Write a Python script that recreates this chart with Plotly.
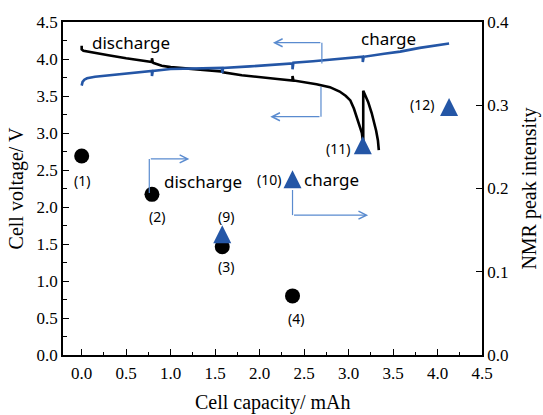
import plotly.graph_objects as go

# Galvanostatic discharge curve (cell voltage vs capacity)
dis_cap = [0.0, 0.0, 0.02, 0.1, 0.3, 0.5, 0.7, 0.79, 0.79, 0.80, 0.9, 1.0, 1.2, 1.4,
           1.58, 1.58, 1.59, 1.8, 2.0, 2.2, 2.37, 2.37, 2.38, 2.5, 2.64, 2.79, 2.9,
           2.97, 3.02, 3.06, 3.09, 3.13, 3.15, 3.16, 3.165, 3.165, 3.18, 3.22, 3.26,
           3.29, 3.31, 3.33, 3.34]
dis_volt = [4.18, 4.13, 4.11, 4.09, 4.05, 4.01, 3.98, 3.96, 4.01, 3.95, 3.91, 3.89, 3.87, 3.85,
            3.83, 3.87, 3.82, 3.78, 3.75, 3.73, 3.71, 3.77, 3.71, 3.69, 3.66, 3.62, 3.56,
            3.50, 3.44, 3.33, 3.22, 3.08, 3.0, 2.90, 2.88, 3.57, 3.53, 3.42, 3.27,
            3.14, 3.03, 2.90, 2.77]

# Charge curve
chg_cap = [0.0, 0.01, 0.03, 0.06, 0.15, 0.32, 0.5, 0.79, 0.79, 0.80, 1.0, 1.2, 1.4,
           1.58, 1.58, 1.59, 1.89, 2.1, 2.37, 2.37, 2.38, 2.6, 2.9, 3.16, 3.16, 3.17,
           3.4, 3.58, 3.8, 4.13]
chg_volt = [3.64, 3.69, 3.72, 3.74, 3.76, 3.78, 3.80, 3.84, 3.77, 3.84, 3.865, 3.87, 3.875,
            3.88, 3.81, 3.88, 3.90, 3.92, 3.94, 3.86, 3.95, 3.97, 4.00, 4.03, 3.96, 4.03,
            4.07, 4.10, 4.15, 4.21]

# NMR peak intensities measured during discharge (1)-(4) and charge (9)-(12)
dis_nmr_cap = [0.0, 0.79, 1.58, 2.37]
dis_nmr_int = [0.239, 0.193, 0.130, 0.071]
dis_nmr_lab = ["(1)", "(2)", "(3)", "(4)"]

chg_nmr_cap = [1.58, 2.37, 3.16, 4.13]
chg_nmr_int = [0.145, 0.211, 0.252, 0.298]
chg_nmr_lab = ["(9)", "(10)", "(11)", "(12)"]

x_ticks = [0.0, 0.5, 1.0, 1.5, 2.0, 2.5, 3.0, 3.5, 4.0, 4.5]
y_ticks = [0.0, 0.5, 1.0, 1.5, 2.0, 2.5, 3.0, 3.5, 4.0, 4.5]
y2_ticks = [0.0, 0.1, 0.2, 0.3, 0.4]

BLUE = "#2456a6"
ARROW = "#5a8bcf"
SERIF = "Liberation Serif"
SANS = "Noto Sans"
TRI = 18  # triangle marker size (px)

fig = go.Figure()
fig.add_trace(go.Scatter(x=dis_cap, y=dis_volt, mode="lines",
                         line=dict(color="black", width=2.6), yaxis="y"))
fig.add_trace(go.Scatter(x=chg_cap, y=chg_volt, mode="lines",
                         line=dict(color=BLUE, width=2.6), yaxis="y"))
fig.add_trace(go.Scatter(x=dis_nmr_cap, y=dis_nmr_int, mode="markers", yaxis="y2",
                         marker=dict(symbol="circle", size=15, color="black")))
# upright triangles centred on their values: an inverted arrow head turned 180 deg
fig.add_trace(go.Scatter(x=chg_nmr_cap, y=chg_nmr_int, mode="markers", yaxis="y2",
                         marker=dict(symbol="arrow-down", angle=180, size=TRI, color=BLUE,
                                     standoff=TRI / 2, line=dict(width=0))))

# point labels, offset in pixels from their markers
dis_off = [(0, -24), (5, -22), (4, -20), (3, -23)]
chg_off = [(4, 18), (-24, 0), (-25, -3), (-27, 2)]
for xs, ys, labs, offs in ((dis_nmr_cap, dis_nmr_int, dis_nmr_lab, dis_off),
                           (chg_nmr_cap, chg_nmr_int, chg_nmr_lab, chg_off)):
    for x, y, t, (dx, dy) in zip(xs, ys, labs, offs):
        fig.add_annotation(x=x, y=y, xref="x", yref="y2", text=t, showarrow=False,
                           xshift=dx, yshift=dy, font=dict(family=SANS, size=14, color="black"))

# curve / series captions
for x, y, t in ((0.55, 4.22, "discharge"), (3.45, 4.28, "charge"),
                (1.36, 2.34, "discharge"), (2.81, 2.37, "charge")):
    fig.add_annotation(x=x, y=y, xref="x", yref="y", text=t, showarrow=False,
                       font=dict(family=SANS, size=17, color="black"))

# bracket arrows pointing to the relevant axis
brackets = [
    # (x of vertical, y start, y corner, x arrow tip)
    (2.70, 3.94, 4.22, 2.15),
    (2.69, 3.62, 3.22, 2.12),
    (0.76, 2.19, 2.65, 1.21),
    (2.37, 2.23, 1.89, 3.22),
]
for xv, y0, y1, xt in brackets:
    fig.add_shape(type="line", xref="x", yref="y", x0=xv, x1=xv, y0=y0, y1=y1,
                  line=dict(color=ARROW, width=1.2))
    fig.add_annotation(x=xt, y=y1, ax=xv, ay=y1, xref="x", yref="y", axref="x", ayref="y",
                       text="", showarrow=True, arrowhead=5, arrowsize=1.3, arrowwidth=1.2,
                       arrowcolor=ARROW)

tickfont = dict(family=SERIF, size=17, color="black")
titlefont = dict(family=SERIF, size=20, color="black")

# x-axis title placed below the tick labels
fig.add_annotation(x=0.5, y=-0.144, xref="paper", yref="paper", text="Cell capacity/ mAh",
                   showarrow=False, xanchor="center", yanchor="middle", font=titlefont)

fig.update_layout(
    width=543, height=415,
    margin=dict(l=63, r=61, t=22, b=60),
    paper_bgcolor="white", plot_bgcolor="white",
    showlegend=False,
    xaxis=dict(range=[-0.21, 4.5], tickvals=x_ticks, tickformat=".1f", automargin=False,
               ticks="inside", ticklen=6, tickwidth=1.3, tickcolor="black",
               minor=dict(dtick=0.25, tick0=0, ticks="inside", ticklen=3, tickcolor="black"),
               showline=True, linecolor="black", linewidth=1.5, mirror=True,
               showgrid=False, zeroline=False, tickfont=tickfont, ticklabelstandoff=2),
    yaxis=dict(range=[0, 4.5], tickvals=y_ticks, tickformat=".1f", automargin=False,
               ticks="inside", ticklen=6, tickwidth=1.3, tickcolor="black",
               minor=dict(dtick=0.25, tick0=0, ticks="inside", ticklen=4, tickcolor="black"),
               showline=True, linecolor="black", linewidth=1.5,
               showgrid=False, zeroline=False, tickfont=tickfont,
               title=dict(text="Cell voltage/ V", font=titlefont, standoff=8)),
    yaxis2=dict(range=[0, 0.4], tickvals=y2_ticks, tickformat=".1f", automargin=False,
                overlaying="y", side="right",
                ticks="inside", ticklen=6, tickwidth=1.3, tickcolor="black",
                showline=True, linecolor="black", linewidth=1.5,
                showgrid=False, zeroline=False, tickfont=tickfont,
                title=dict(text="NMR peak intensity", font=titlefont, standoff=14)),
)

fig.write_html("out.html")
